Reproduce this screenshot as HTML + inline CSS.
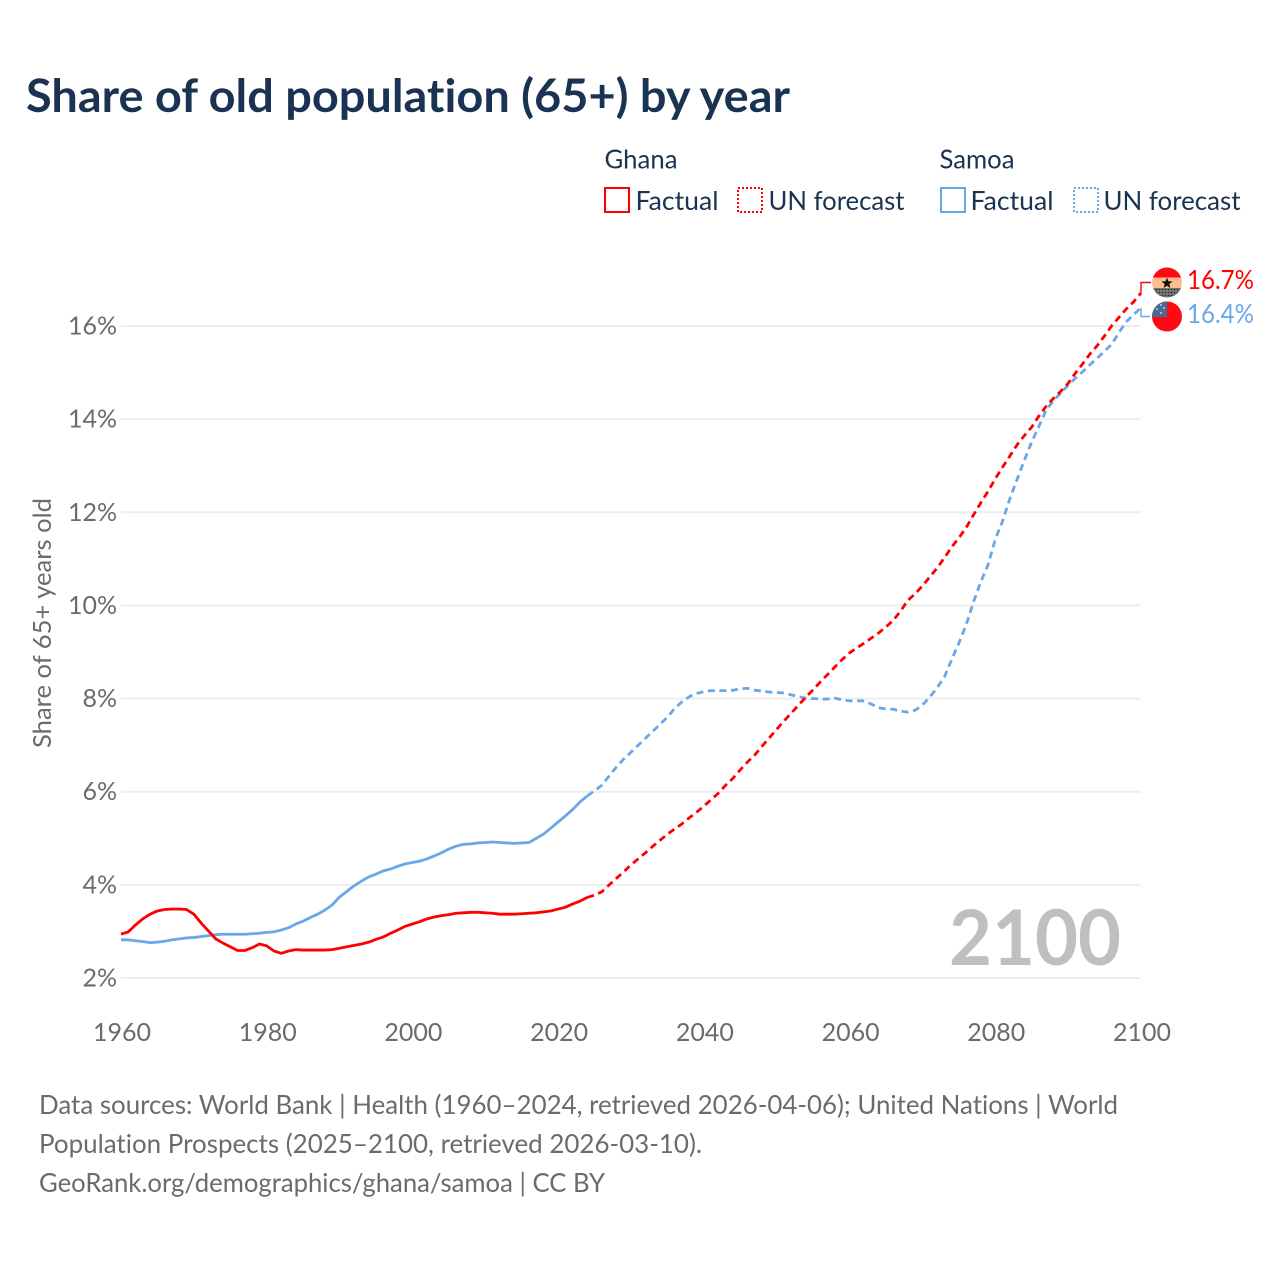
<!DOCTYPE html>
<html>
<head>
<meta charset="utf-8">
<style>
html,body{margin:0;padding:0;background:#fff;}
svg{display:block;}
text{font-family:"Lato","Liberation Sans",sans-serif;font-variant-ligatures:none;}
</style>
</head>
<body>
<svg id="chart" width="1280" height="1280" viewBox="0 0 1280 1280" xmlns="http://www.w3.org/2000/svg">
  <defs>
    <clipPath id="clip-ghana"><circle cx="1167" cy="282.5" r="15"/></clipPath>
    <clipPath id="clip-samoa"><circle cx="1167" cy="316.5" r="15"/></clipPath>
    <pattern id="dots" width="3" height="3" patternUnits="userSpaceOnUse"><rect width="3" height="3" fill="#777"/><circle cx="1.5" cy="1.5" r="0.8" fill="#222"/></pattern>
  </defs>
  <text x="26" y="112" font-size="46" font-weight="700" fill="#1a3353" textLength="764" lengthAdjust="spacingAndGlyphs">Share of old population (65+) by year</text>

  <g font-size="26" fill="#1a3353">
    <text x="604.5" y="168.5" textLength="73" lengthAdjust="spacingAndGlyphs">Ghana</text>
    <rect x="605" y="188" width="24" height="24" fill="none" stroke="#ff0000" stroke-width="2"/>
    <text x="635.5" y="210" textLength="83" lengthAdjust="spacingAndGlyphs">Factual</text>
    <rect x="738" y="188" width="24" height="24" fill="none" stroke="#ff0000" stroke-width="2" stroke-dasharray="2 2"/>
    <text x="768.5" y="210" textLength="136" lengthAdjust="spacingAndGlyphs">UN forecast</text>
    <text x="939.5" y="168.5" textLength="75" lengthAdjust="spacingAndGlyphs">Samoa</text>
    <rect x="941" y="188" width="24" height="24" fill="none" stroke="#6aa7e8" stroke-width="2"/>
    <text x="970.5" y="210" textLength="83" lengthAdjust="spacingAndGlyphs">Factual</text>
    <rect x="1074" y="188" width="24" height="24" fill="none" stroke="#6aa7e8" stroke-width="2" stroke-dasharray="2 2"/>
    <text x="1103.5" y="210" textLength="137" lengthAdjust="spacingAndGlyphs">UN forecast</text>
  </g>

  <text transform="translate(51,623) rotate(-90)" text-anchor="middle" font-size="25" fill="#6b6b6b" textLength="250" lengthAdjust="spacingAndGlyphs">Share of 65+ years old</text>

  <g id="grid"></g>
  <g id="yticks" font-size="25" fill="#6b6b6b"></g>
  <g id="xticks" font-size="25" fill="#6b6b6b"></g>

  <text x="949" y="965" font-size="77" font-weight="700" fill="#bfbfbf" textLength="172" lengthAdjust="spacingAndGlyphs">2100</text>

  <g id="series"></g>

  <g clip-path="url(#clip-ghana)">
    <rect x="1152" y="267" width="30" height="10.5" fill="#ff0a14"/>
    <rect x="1152" y="277.5" width="30" height="10.5" fill="#ffbd94"/>
    <rect x="1152" y="288" width="30" height="10.5" fill="url(#dots)"/>
    <polygon points="1167,277.5 1168.4,281.3 1172.5,281.5 1169.3,284 1170.4,288 1167,285.7 1163.6,288 1164.7,284 1161.5,281.5 1165.6,281.3" fill="#111"/>
  </g>
  <g clip-path="url(#clip-samoa)">
    <rect x="1152" y="301" width="30" height="31" fill="#ff0a14"/>
    <rect x="1152" y="301" width="15" height="16" fill="#4a6a96"/>
    <circle cx="1161" cy="305" r="0.9" fill="#dfe7f2"/>
    <circle cx="1157" cy="309" r="0.9" fill="#dfe7f2"/>
    <circle cx="1164" cy="308" r="0.9" fill="#dfe7f2"/>
    <circle cx="1161" cy="313" r="0.9" fill="#dfe7f2"/>
  </g>
  <g id="labels" font-size="26"></g>

  <g font-size="26" fill="#6b6b6b">
    <text x="39" y="1114" textLength="1079" lengthAdjust="spacingAndGlyphs">Data sources: World Bank | Health (1960–2024, retrieved 2026-04-06); United Nations | World</text>
    <text x="39" y="1153" textLength="663" lengthAdjust="spacingAndGlyphs">Population Prospects (2025–2100, retrieved 2026-03-10).</text>
    <text x="39" y="1192" textLength="566" lengthAdjust="spacingAndGlyphs">GeoRank.org/demographics/ghana/samoa | CC BY</text>
  </g>
</svg>
<script>
const xTickYears = [1960, 1980, 2000, 2020, 2040, 2060, 2080, 2100];
const yTickValues = [2, 4, 6, 8, 10, 12, 14, 16];
const factualStartYear = 1960;
const forecastStartYear = 2024;
const ghanaFactual = [
  2.94,2.99,3.14,3.27,3.37,3.44,3.47,3.48,3.48,3.47,
  3.37,3.18,3.01,2.84,2.75,2.67,2.59,2.59,2.65,2.73,
  2.69,2.58,2.53,2.58,2.61,2.60,2.60,2.60,2.60,2.61,
  2.64,2.67,2.70,2.73,2.77,2.83,2.88,2.96,3.03,3.11,
  3.16,3.21,3.27,3.31,3.34,3.36,3.39,3.40,3.41,3.41,
  3.40,3.39,3.37,3.37,3.37,3.38,3.39,3.40,3.42,3.44,
  3.48,3.52,3.59,3.65,3.73
];
const ghanaForecast = [
  3.73,3.78,3.85,4.00,4.14,4.28,4.43,4.56,4.69,4.83,4.96,
  5.09,5.20,5.31,5.44,5.56,5.69,5.83,5.97,6.14,6.29,
  6.47,6.64,6.79,6.98,7.16,7.34,7.52,7.69,7.86,8.03,
  8.19,8.36,8.52,8.68,8.84,8.98,9.09,9.19,9.30,9.41,
  9.54,9.68,9.88,10.11,10.25,10.42,10.61,10.80,11.02,11.25,
  11.45,11.67,11.94,12.20,12.45,12.72,12.97,13.21,13.45,13.65,
  13.83,14.07,14.28,14.45,14.60,14.77,14.99,15.19,15.40,15.58,
  15.79,16.01,16.19,16.37,16.52,16.71
];
const samoaFactual = [
  2.82,2.82,2.80,2.78,2.76,2.77,2.79,2.82,2.84,2.86,
  2.87,2.89,2.91,2.93,2.94,2.94,2.94,2.94,2.95,2.96,
  2.98,2.99,3.03,3.08,3.16,3.22,3.30,3.37,3.46,3.57,
  3.74,3.86,3.98,4.08,4.17,4.23,4.30,4.34,4.40,4.45,
  4.48,4.51,4.56,4.62,4.69,4.77,4.83,4.87,4.88,4.90,
  4.91,4.92,4.91,4.90,4.89,4.90,4.91,5.00,5.09,5.22,
  5.35,5.48,5.62,5.78,5.91
];
const samoaForecast = [
  5.91,6.02,6.14,6.34,6.53,6.70,6.85,7.00,7.15,7.30,7.45,
  7.60,7.79,7.93,8.04,8.11,8.15,8.17,8.17,8.17,8.18,
  8.21,8.22,8.18,8.16,8.14,8.13,8.12,8.08,8.04,8.01,
  8.00,7.99,7.99,8.01,7.97,7.95,7.95,7.95,7.88,7.80,
  7.78,7.77,7.73,7.71,7.75,7.86,8.03,8.23,8.46,8.83,
  9.19,9.58,10.07,10.50,10.87,11.42,11.81,12.29,12.71,13.12,
  13.51,13.85,14.20,14.40,14.56,14.73,14.88,15.02,15.17,15.31,
  15.46,15.61,15.87,16.09,16.25,16.39
];

const NS = 'http://www.w3.org/2000/svg';
function xScale(year) { return 121 + (year - 1960) * (1141 - 121) / 140; }
function yScale(v) { return 978 - (v - 2) * (978 - 326) / 14; }
function make(tag, attrs, parent) {
  const el = document.createElementNS(NS, tag);
  for (const k in attrs) el.setAttribute(k, attrs[k]);
  parent.appendChild(el);
  return el;
}
function linePath(values, startYear) {
  return values.map((v, i) => (i ? 'L' : 'M') + xScale(startYear + i).toFixed(2) + ' ' + yScale(v).toFixed(2)).join('');
}

const grid = document.getElementById('grid');
const yticks = document.getElementById('yticks');
yTickValues.forEach(v => {
  const line = make('line', {x1: 121, x2: 1141, y1: yScale(v), y2: yScale(v), stroke: '#eeeeee', 'stroke-width': 2}, grid);
  
  
  const t = make('text', {x: 117, y: yScale(v) + 8.5, 'text-anchor': 'end'}, yticks);
  
  
  t.textContent = v + '%';
});
const xticks = document.getElementById('xticks');
xTickYears.forEach(y => {
  const t = make('text', {x: xScale(y) + 1, y: 1041, 'text-anchor': 'middle'}, xticks);
  
  
  t.textContent = y;
});

const series = document.getElementById('series');
const RED = '#ff0000', BLUE = '#6aa7e8';
const samoaFactualLine = make('path', {d: linePath(samoaFactual, factualStartYear), fill: 'none', stroke: BLUE, 'stroke-width': 2.8, 'stroke-linejoin': 'round'}, series);


const samoaForecastLine = make('path', {d: linePath(samoaForecast, forecastStartYear), fill: 'none', stroke: BLUE, 'stroke-width': 2.8, 'stroke-dasharray': '7 4.6', 'stroke-linejoin': 'round'}, series);


const ghanaFactualLine = make('path', {d: linePath(ghanaFactual, factualStartYear), fill: 'none', stroke: RED, 'stroke-width': 2.8, 'stroke-linejoin': 'round'}, series);


const ghanaForecastLine = make('path', {d: linePath(ghanaForecast, forecastStartYear), fill: 'none', stroke: RED, 'stroke-width': 2.8, 'stroke-dasharray': '7 4.6', 'stroke-linejoin': 'round'}, series);



const ghanaLast = ghanaForecast[ghanaForecast.length - 1];
const samoaLast = samoaForecast[samoaForecast.length - 1];
const ghanaConnector = make('path', {d: 'M' + xScale(2100) + ' ' + yScale(ghanaLast) + 'V282.5H1151', fill: 'none', stroke: RED, 'stroke-width': 1.4}, series);


const samoaConnector = make('path', {d: 'M' + xScale(2100) + ' ' + yScale(samoaLast) + 'V316.5H1150', fill: 'none', stroke: BLUE, 'stroke-width': 1.4}, series);



const labels = document.getElementById('labels');
const ghanaLabel = make('text', {x: 1187, y: 289, fill: RED, textLength: 67, lengthAdjust: 'spacingAndGlyphs'}, labels);


ghanaLabel.textContent = ghanaLast.toFixed(1) + '%';
const samoaLabel = make('text', {x: 1187, y: 323, fill: BLUE, textLength: 67, lengthAdjust: 'spacingAndGlyphs'}, labels);


samoaLabel.textContent = samoaLast.toFixed(1) + '%';
</script>
</body>
</html>
